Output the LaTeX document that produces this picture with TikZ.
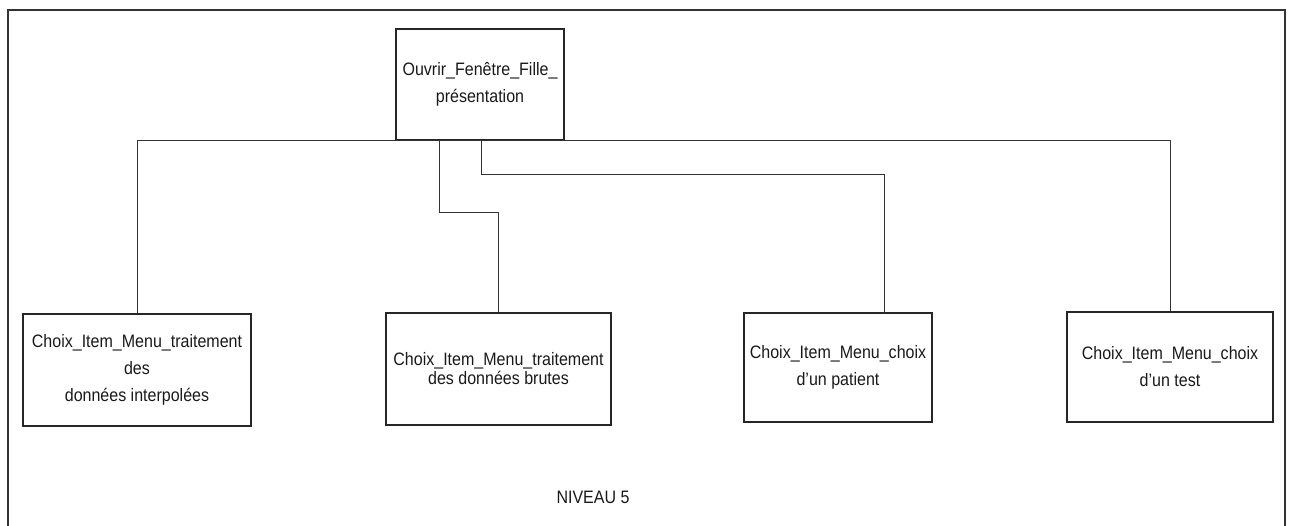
\documentclass[tikz,border=0pt]{standalone}
\usepackage{fontspec}
\setmainfont{Liberation Sans}[FakeStretch=0.89]
\begin{document}
\begin{tikzpicture}[x=1pt,y=-1pt,
  font=\fontsize{18}{27}\selectfont,
  procbox/.style={draw=black!85,line width=1.1pt,align=center,inner sep=0pt,text=black!90},
  link/.style={draw=black!80,line width=0.9pt},
  frame/.style={draw=black!80,line width=1.8pt}]
\useasboundingbox (0,0) rectangle (1291,525);
% outer frame, open at the bottom edge of the page
\draw[frame] (8,540) -- (8,10) -- (1285,10) -- (1285,540);

% parent
\node[procbox,minimum width=168pt,minimum height=111pt] (top) at (480,84.5)
  {Ouvrir\_Fenêtre\_Fille\_\\présentation};

% children
\node[procbox,minimum width=228pt,minimum height=112pt] (b1) at (137,370)
  {Choix\_Item\_Menu\_traitement\\des\\données interpolées};
\node[procbox,minimum width=225pt,minimum height=112pt,
      font=\fontsize{18}{19}\selectfont] (b2) at (498.5,369)
  {Choix\_Item\_Menu\_traitement\\des données brutes};
\node[procbox,minimum width=188pt,minimum height=109pt] (b3) at (838,367.5)
  {Choix\_Item\_Menu\_choix\\d'un patient};
\node[procbox,minimum width=206pt,minimum height=110pt] (b4) at (1170,367)
  {Choix\_Item\_Menu\_choix\\d'un test};

\node[text=black!90] (lvl) at (593,497) {NIVEAU 5};

% connectors
\coordinate (t2) at (439,140);
\coordinate (t3) at (481,140);
\coordinate (b3in) at (884,312.5);
\draw[link] (b1.north) -- (b1.north |- top.south) -- (b4.north |- top.south) -- (b4.north);
\draw[link] (t2) -- ++(0,72) -| (b2.north);
\draw[link] (t3) -- ++(0,34) -| (b3in);
\end{tikzpicture}
\end{document}
